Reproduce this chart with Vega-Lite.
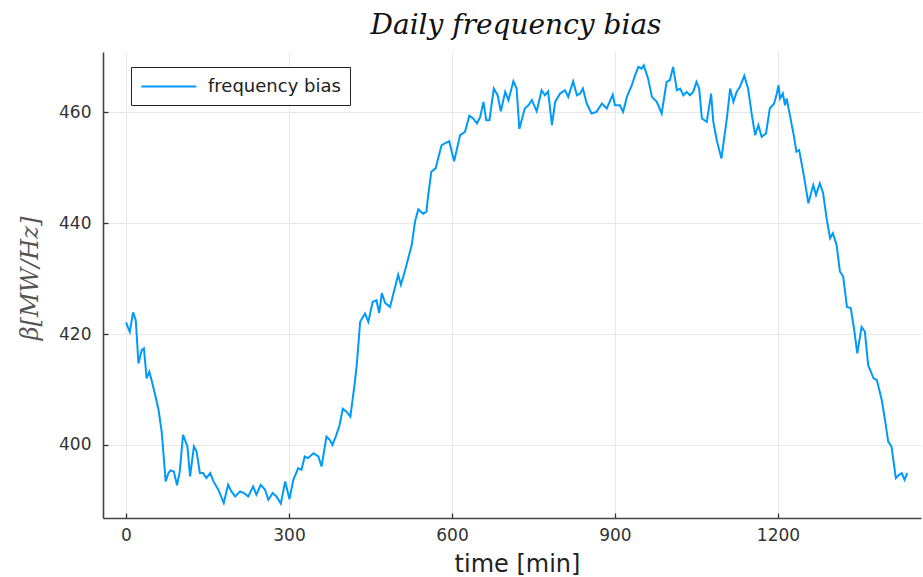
{
  "$schema": "https://vega.github.io/schema/vega-lite/v6.json",
  "autosize": "none",
  "padding": {"left": 103, "top": 52, "right": 2, "bottom": 59},
  "width": 818,
  "height": 466,
  "background": "white",
  "config": {
    "view": {"stroke": null},
    "font": "DejaVu Sans"
  },
  "title": {
    "text": "Daily frequency bias",
    "font": "DejaVu Serif",
    "fontStyle": "italic",
    "fontWeight": "normal",
    "fontSize": 28,
    "color": "#111",
    "anchor": "middle",
    "offset": 12,
    "dx": 4
  },
  "data": {
    "values": [
      {"t": 0, "v": 422.1}, {"t": 7, "v": 420.4}, {"t": 13, "v": 423.9}, {"t": 18, "v": 422.5},
      {"t": 23, "v": 414.7}, {"t": 29, "v": 417.1}, {"t": 33, "v": 417.4}, {"t": 38, "v": 412},
      {"t": 43, "v": 413.2}, {"t": 47, "v": 411.7}, {"t": 53, "v": 409.3}, {"t": 60, "v": 406.3},
      {"t": 66, "v": 402.1}, {"t": 73, "v": 393.4}, {"t": 78, "v": 394.9}, {"t": 82, "v": 395.4},
      {"t": 88, "v": 395.2}, {"t": 94, "v": 392.7}, {"t": 99, "v": 395.2}, {"t": 105, "v": 401.8},
      {"t": 113, "v": 399.7}, {"t": 118, "v": 394.3}, {"t": 125, "v": 399.7}, {"t": 130, "v": 398.8},
      {"t": 136, "v": 394.9}, {"t": 142, "v": 394.9}, {"t": 148, "v": 394}, {"t": 155, "v": 394.9},
      {"t": 161, "v": 393.4}, {"t": 170, "v": 391.9}, {"t": 180, "v": 389.5}, {"t": 188, "v": 392.8},
      {"t": 194, "v": 391.6}, {"t": 201, "v": 390.7}, {"t": 210, "v": 391.6}, {"t": 217, "v": 391.3},
      {"t": 225, "v": 390.7}, {"t": 234, "v": 392.5}, {"t": 240, "v": 391}, {"t": 248, "v": 392.8},
      {"t": 256, "v": 391.9}, {"t": 262, "v": 390.1}, {"t": 270, "v": 391.3}, {"t": 277, "v": 390.7},
      {"t": 285, "v": 389.4}, {"t": 293, "v": 393.4}, {"t": 301, "v": 390.2}, {"t": 308, "v": 393.7},
      {"t": 317, "v": 395.8}, {"t": 323, "v": 395.5}, {"t": 329, "v": 397.9}, {"t": 335, "v": 397.6},
      {"t": 345, "v": 398.5}, {"t": 354, "v": 397.9}, {"t": 360, "v": 396.1}, {"t": 369, "v": 401.5},
      {"t": 375, "v": 400.9}, {"t": 380, "v": 400}, {"t": 386, "v": 401.5}, {"t": 393, "v": 403.5},
      {"t": 399, "v": 406.5}, {"t": 406, "v": 406}, {"t": 413, "v": 405.1}, {"t": 421, "v": 411.1},
      {"t": 425, "v": 414.7}, {"t": 431, "v": 422.2}, {"t": 440, "v": 423.7}, {"t": 446, "v": 422.2},
      {"t": 454, "v": 425.8}, {"t": 461, "v": 426.1}, {"t": 466, "v": 423.8}, {"t": 471, "v": 427.4},
      {"t": 477, "v": 425.6}, {"t": 486, "v": 424.9}, {"t": 501, "v": 430.7}, {"t": 506, "v": 428.9},
      {"t": 514, "v": 431.6}, {"t": 526, "v": 436.1}, {"t": 532, "v": 440.3}, {"t": 538, "v": 442.5},
      {"t": 547, "v": 441.7}, {"t": 553, "v": 442.1}, {"t": 556, "v": 444.8}, {"t": 562, "v": 449.3},
      {"t": 570, "v": 449.9}, {"t": 574, "v": 451.5}, {"t": 581, "v": 454.1}, {"t": 587, "v": 454.4},
      {"t": 595, "v": 454.8}, {"t": 604, "v": 451.2}, {"t": 615, "v": 455.9}, {"t": 624, "v": 456.5},
      {"t": 632, "v": 459.4}, {"t": 639, "v": 458.9}, {"t": 646, "v": 458}, {"t": 652, "v": 459.2},
      {"t": 658, "v": 461.9}, {"t": 663, "v": 458.6}, {"t": 669, "v": 458.6}, {"t": 677, "v": 464.3},
      {"t": 684, "v": 463.1}, {"t": 690, "v": 460.2}, {"t": 698, "v": 463.7}, {"t": 704, "v": 462.2},
      {"t": 713, "v": 465.6}, {"t": 719, "v": 464.3}, {"t": 724, "v": 457}, {"t": 734, "v": 460.7},
      {"t": 741, "v": 461.3}, {"t": 747, "v": 462.2}, {"t": 756, "v": 460.2}, {"t": 765, "v": 464},
      {"t": 771, "v": 463.1}, {"t": 777, "v": 463.8}, {"t": 784, "v": 457.7}, {"t": 790, "v": 461.9},
      {"t": 799, "v": 463.4}, {"t": 808, "v": 464}, {"t": 814, "v": 462.8}, {"t": 823, "v": 465.6},
      {"t": 830, "v": 463.1}, {"t": 836, "v": 463.4}, {"t": 841, "v": 464.3}, {"t": 848, "v": 461.6},
      {"t": 857, "v": 459.8}, {"t": 866, "v": 460.1}, {"t": 876, "v": 461.6}, {"t": 885, "v": 460.7},
      {"t": 896, "v": 463.2}, {"t": 900, "v": 461.3}, {"t": 909, "v": 461.3}, {"t": 915, "v": 460.1},
      {"t": 922, "v": 462.8}, {"t": 931, "v": 464.9}, {"t": 937, "v": 466.7}, {"t": 943, "v": 468.2},
      {"t": 949, "v": 467.9}, {"t": 953, "v": 468.5}, {"t": 961, "v": 466.1}, {"t": 968, "v": 462.8},
      {"t": 977, "v": 461.9}, {"t": 986, "v": 459.8}, {"t": 995, "v": 465.5}, {"t": 1001, "v": 465.8},
      {"t": 1007, "v": 468.2}, {"t": 1014, "v": 464}, {"t": 1020, "v": 464.3}, {"t": 1026, "v": 463.1},
      {"t": 1032, "v": 463.7}, {"t": 1038, "v": 463.1}, {"t": 1044, "v": 463.7}, {"t": 1050, "v": 465.5},
      {"t": 1055, "v": 464.3}, {"t": 1060, "v": 458.9}, {"t": 1069, "v": 458.3}, {"t": 1077, "v": 463.4},
      {"t": 1081, "v": 458.3}, {"t": 1088, "v": 454.7}, {"t": 1096, "v": 451.7}, {"t": 1106, "v": 458.9},
      {"t": 1112, "v": 464.3}, {"t": 1118, "v": 461.9}, {"t": 1124, "v": 463.7}, {"t": 1130, "v": 464.6},
      {"t": 1138, "v": 466.6}, {"t": 1145, "v": 464.3}, {"t": 1152, "v": 459.5}, {"t": 1158, "v": 455.9},
      {"t": 1164, "v": 457.7}, {"t": 1170, "v": 455.6}, {"t": 1178, "v": 456.2}, {"t": 1185, "v": 460.7},
      {"t": 1193, "v": 461.6}, {"t": 1198, "v": 463.4}, {"t": 1201, "v": 464.9}, {"t": 1204, "v": 462.5},
      {"t": 1209, "v": 463.4}, {"t": 1213, "v": 461.3}, {"t": 1216, "v": 462.5}, {"t": 1222, "v": 459.5},
      {"t": 1229, "v": 455.9}, {"t": 1234, "v": 452.9}, {"t": 1239, "v": 453.2}, {"t": 1247, "v": 449},
      {"t": 1256, "v": 443.6}, {"t": 1265, "v": 446.9}, {"t": 1270, "v": 445.1}, {"t": 1277, "v": 447.2},
      {"t": 1283, "v": 445.5}, {"t": 1290, "v": 440.6}, {"t": 1296, "v": 437.3}, {"t": 1301, "v": 438.2},
      {"t": 1308, "v": 436.1}, {"t": 1314, "v": 431.3}, {"t": 1320, "v": 430.4}, {"t": 1327, "v": 424.9},
      {"t": 1334, "v": 424.7}, {"t": 1340, "v": 421}, {"t": 1346, "v": 416.5}, {"t": 1354, "v": 421.3},
      {"t": 1360, "v": 420.4}, {"t": 1366, "v": 414.4}, {"t": 1376, "v": 412}, {"t": 1382, "v": 411.7},
      {"t": 1391, "v": 408.1}, {"t": 1397, "v": 404.5}, {"t": 1403, "v": 400.6}, {"t": 1409, "v": 399.7},
      {"t": 1417, "v": 394}, {"t": 1423, "v": 394.6}, {"t": 1428, "v": 394.9}, {"t": 1433, "v": 393.7},
      {"t": 1438, "v": 394.9}
    ]
  },
  "mark": {"type": "line", "strokeWidth": 2, "interpolate": "linear", "clip": true},
  "encoding": {
    "x": {
      "field": "t",
      "type": "quantitative",
      "scale": {"domain": [-42.3, 1463.3], "nice": false, "zero": false},
      "axis": {
        "title": "time [min]",
        "values": [0, 300, 600, 900, 1200],
        "format": "d",
        "labelFont": "DejaVu Sans",
        "labelFontSize": 17,
        "labelColor": "#333",
        "labelPadding": 14,
        "tickSize": -5,
        "tickColor": "#333",
        "tickWidth": 1.3,
        "domainColor": "#444",
        "domainWidth": 1.6,
        "gridColor": "#e8e8e8",
        "gridWidth": 1,
        "titleFont": "DejaVu Sans",
        "titleFontSize": 24,
        "titleFontWeight": "normal",
        "titleColor": "#222",
        "titleX": 414,
        "titleY": 46,
        "titleBaseline": "middle",
        "titleAlign": "center"
      }
    },
    "y": {
      "field": "v",
      "type": "quantitative",
      "scale": {"domain": [386.8, 470.9], "nice": false, "zero": false},
      "axis": {
        "title": "β[MW/Hz]",
        "values": [400, 420, 440, 460],
        "labelFont": "DejaVu Sans",
        "labelFontSize": 17,
        "labelColor": "#333",
        "labelPadding": 17,
        "tickSize": -5,
        "tickColor": "#333",
        "tickWidth": 1.3,
        "domainColor": "#444",
        "domainWidth": 1.6,
        "gridColor": "#e8e8e8",
        "gridWidth": 1,
        "titleFont": "DejaVu Serif",
        "titleFontStyle": "italic",
        "titleFontSize": 24,
        "titleFontWeight": "normal",
        "titleColor": "#555",
        "titleX": -73,
        "titleY": 226,
        "titleAngle": -90,
        "titleBaseline": "middle",
        "titleAlign": "center"
      }
    },
    "color": {
      "datum": "frequency bias",
      "type": "nominal",
      "scale": {"range": ["#009AFA"]},
      "legend": {
        "title": null,
        "orient": "none",
        "legendX": 28,
        "legendY": 15,
        "strokeColor": "#222",
        "fillColor": "white",
        "padding": 9,
        "symbolType": "M-1,0H5",
        "symbolSize": 336,
        "symbolStrokeWidth": 1.8,
        "labelFont": "DejaVu Sans",
        "labelFontSize": 18,
        "labelColor": "#222",
        "labelOffset": 47
      }
    }
  }
}
